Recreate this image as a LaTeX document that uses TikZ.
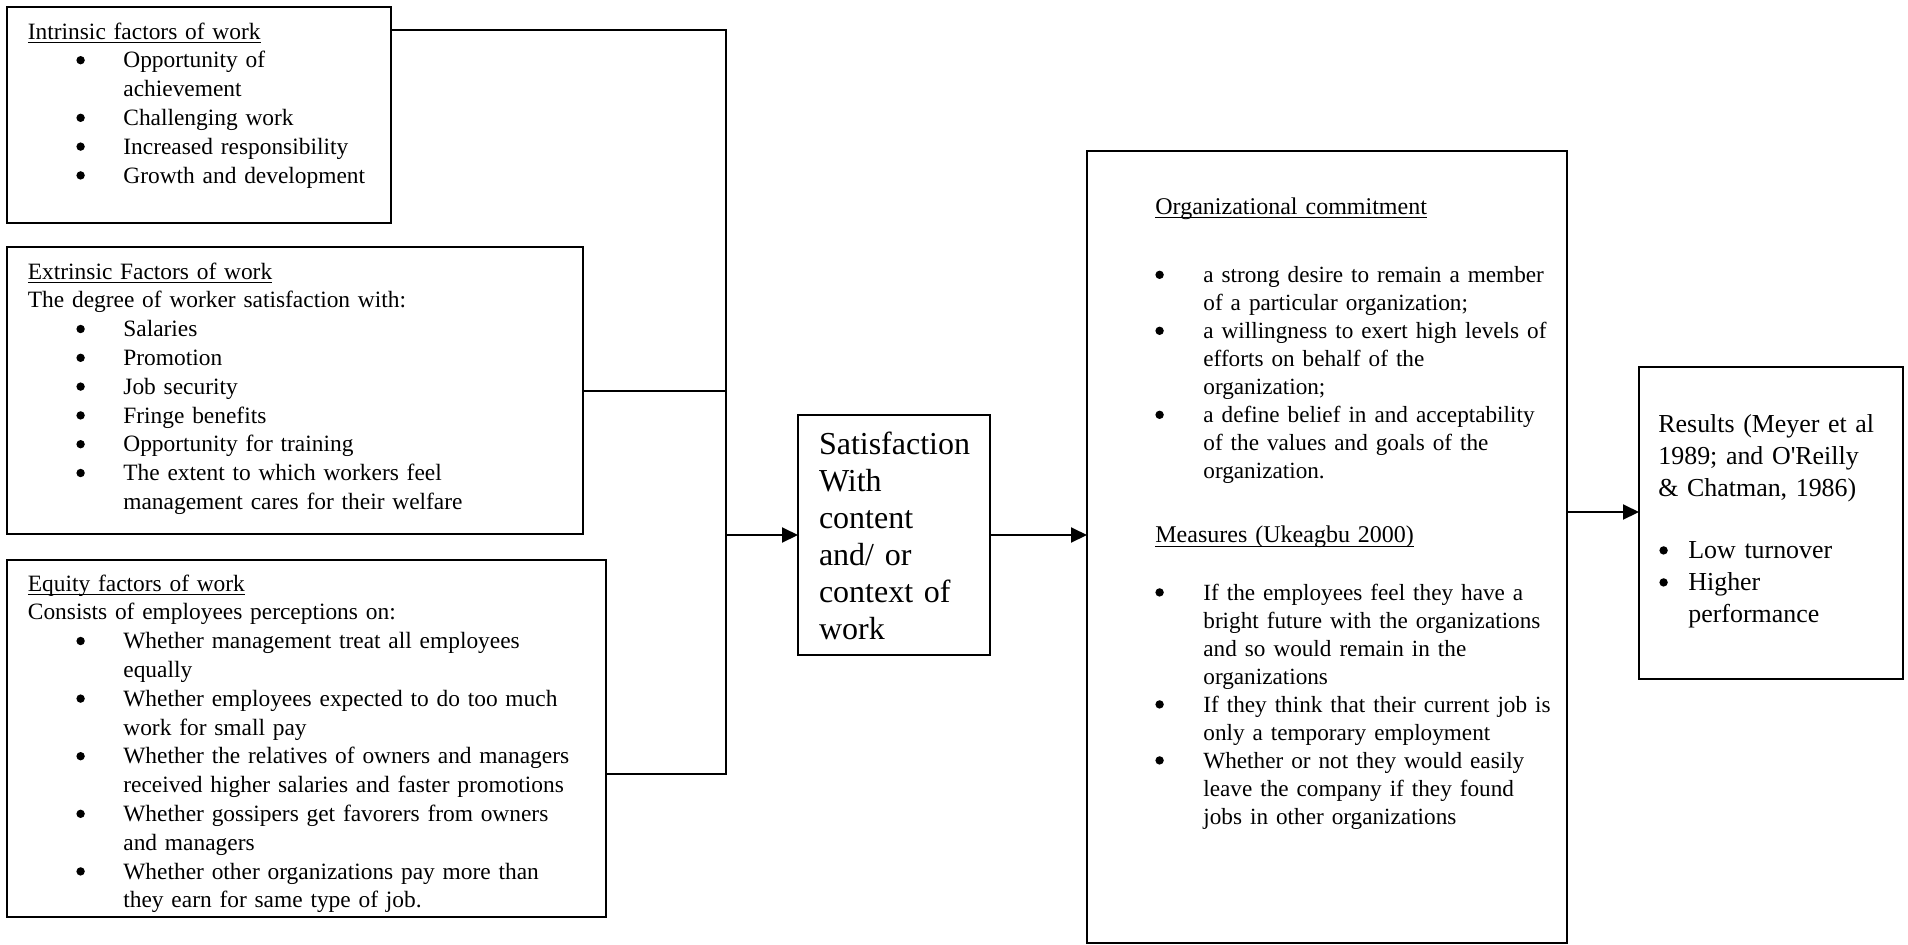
\documentclass[tikz,border=0pt]{standalone}
\usepackage{fontspec}
\setmainfont{Liberation Serif}
\usepackage{amsmath}
\usetikzlibrary{arrows.meta}

\newcommand{\bigbullet}{\tikz[baseline=0pt]\fill (0,3.8pt) circle (2.1pt);}
\newcommand{\heading}[1]{\underline{\smash{#1}}}
\newenvironment{bullets}[2]{%
  \begin{list}{\bigbullet}{%
    \setlength{\leftmargin}{#1}%
    \setlength{\labelsep}{#2}%
    \setlength{\labelwidth}{20pt}%
    \setlength{\itemsep}{0pt}%
    \setlength{\parsep}{0pt}%
    \setlength{\topsep}{0pt}%
    \setlength{\partopsep}{0pt}}}%
  {\end{list}}

\begin{document}
\begin{tikzpicture}[x=0.5pt, y=-0.5pt, line width=1pt,
  box/.style={draw, anchor=north west, inner sep=0pt, outer sep=0pt},
  txt/.style={anchor=base west, inner sep=0pt, align=left},
  flow/.style={-{Triangle[length=8pt,width=7.5pt]}}]

\useasboundingbox (0,0) rectangle (1908,944);

% Factor boxes on the left
\node[box, minimum width=192pt, minimum height=108pt] (intr) at (7,7) {};
\node[box, minimum width=288pt, minimum height=143.5pt] (extr) at (7,247) {};
\node[box, minimum width=299.5pt, minimum height=178.5pt] (equi) at (7,560) {};

% Satisfaction, commitment and results boxes
\node[box, minimum width=96pt, minimum height=120pt] (sat) at (798,415) {};
\node[box, minimum width=240pt, minimum height=396pt] (org) at (1087,151) {};
\node[box, minimum width=132pt, minimum height=156pt] (res) at (1639,367) {};

% Intrinsic factors
\node[txt, text width=175pt, font={\fontsize{11.7}{14.4}\selectfont}] (intrtxt) at (27.5,39) {%
\heading{Intrinsic factors of work}
\begin{bullets}{47.75pt}{19.3pt}
\item Opportunity of\\ achievement
\item Challenging work
\item Increased responsibility
\item Growth and development
\end{bullets}};

% Extrinsic factors
\node[txt, text width=265pt, font={\fontsize{11.7}{14.4}\selectfont}] (extrtxt) at (27.5,279) {%
\heading{Extrinsic Factors of work}\\
The degree of worker satisfaction with:
\begin{bullets}{47.75pt}{19.3pt}
\item Salaries
\item Promotion
\item Job security
\item Fringe benefits
\item Opportunity for training
\item The extent to which workers feel\\ management cares for their welfare
\end{bullets}};

% Equity factors
\node[txt, text width=280pt, font={\fontsize{11.7}{14.4}\selectfont}] (equitxt) at (27.5,591) {%
\heading{Equity factors of work}\\
Consists of employees perceptions on:
\begin{bullets}{47.75pt}{19.3pt}
\item Whether management treat all employees\\ equally
\item Whether employees expected to do too much\\ work for small pay
\item Whether the relatives of owners and managers\\ received higher salaries and faster promotions
\item Whether gossipers get favorers from owners\\ and managers
\item Whether other organizations pay more than\\ they earn for same type of job.
\end{bullets}};

% Satisfaction
\node[txt, text width=92pt, font={\fontsize{16}{18.5}\selectfont}] (sattxt) at (818,454)
  {Satisfaction\\ With\\ content\\ and/ or\\ context of\\ work};

% Organizational commitment
\node[txt, text width=205pt, font={\fontsize{12}{14}\selectfont}] (orgtxt) at (1155,214) {%
\heading{Organizational commitment}\par\vspace{20.2pt}
{\fontsize{11.6}{14}\selectfont
\begin{bullets}{24pt}{19.8pt}
\item a strong desire to remain a member\\ of a particular organization;
\item a willingness to exert high levels of\\ efforts on behalf of the\\ organization;
\item a define belief in and acceptability\\ of the values and goals of the\\ organization.
\end{bullets}}
\vspace{18.2pt}
\heading{Measures (Ukeagbu 2000)}\par\vspace{14.6pt}
{\fontsize{11.6}{14}\selectfont
\begin{bullets}{24pt}{19.8pt}
\item If the employees feel they have a\\ bright future with the organizations\\ and so would remain in the\\ organizations
\item If they think that their current job is\\ only a temporary employment
\item Whether or not they would easily\\ leave the company if they found\\ jobs in other organizations
\end{bullets}}};

% Results
\node[txt, text width=120pt, font={\fontsize{12.95}{16}\selectfont}] (restxt) at (1658,432) {%
Results (Meyer et al\\ 1989; and O\textquotesingle Reilly\\ \& Chatman, 1986)\par\vspace{15pt}
\begin{bullets}{15pt}{10.3pt}
\item Low turnover
\item Higher\\ performance
\end{bullets}};

% Joining lines
\coordinate (bustop) at (726,30);
\coordinate (busbot) at (726,774);
\draw (intr.east |- bustop) -- (bustop) -- (busbot) -- (equi.east |- busbot);
\draw (extr.east) -- (extr.east -| bustop);

% Arrows
\draw[flow] (sat.west -| bustop) -- (sat.west);
\draw[flow] (sat.east) -- (sat.east -| org.west);
\draw[flow] (org.east |- 0,512) -- (res.west |- 0,512);

\end{tikzpicture}
\end{document}
